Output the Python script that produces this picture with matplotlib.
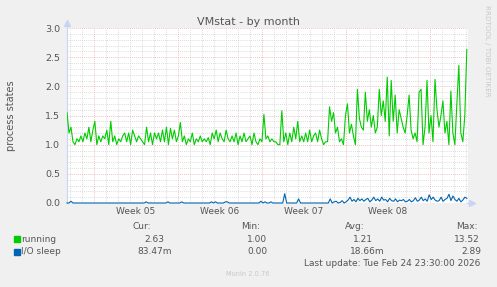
import numpy as np
import matplotlib
matplotlib.use("Agg")
import matplotlib.pyplot as plt
from matplotlib.patches import Rectangle

# ---------------- data ----------------
title = "VMstat - by month"
ylabel = "process states"
week_labels = ["Week 05", "Week 06", "Week 07", "Week 08"]
span_days = 33.42          # time span shown (days)
week_start = 2.25          # first Monday boundary (days from left edge)

running = [
    1.55, 1.2, 1.3, 1.05, 1.0, 1.1, 1.05, 1.15, 1.05, 1.2, 1.1, 1.3, 1.05, 1.25, 1.4, 1.0, 1.15,
    1.05, 1.15, 1.1, 1.25, 1.0, 1.4, 1.05, 1.15, 1.0, 1.1, 1.05, 1.15, 1.2, 1.05, 1.2, 1.0, 1.25,
    1.15, 1.05, 1.15, 1.1, 1.05, 1.0, 1.3, 1.05, 1.2, 1.0, 1.2, 1.1, 1.2, 1.05, 1.25, 1.05, 1.3,
    1.0, 1.28, 1.1, 1.25, 1.05, 1.15, 1.38, 1.05, 1.15, 1.0, 1.1, 1.05, 1.2, 1.0, 1.1, 1.05,
    1.15, 1.05, 1.1, 1.05, 1.12, 1.0, 1.2, 1.1, 1.25, 1.05, 1.2, 1.1, 1.05, 1.25, 1.1, 1.05, 1.15,
    1.05, 1.2, 1.0, 1.15, 1.05, 1.2, 1.05, 1.1, 1.15, 1.0, 1.2, 1.05, 1.0, 1.1, 1.05, 1.52, 1.1,
    1.15, 1.05, 1.1, 1.05, 1.05, 1.0, 1.0, 1.58, 1.05, 1.2, 1.0, 1.2, 1.05, 1.3, 1.1, 1.4, 1.05,
    1.15, 1.05, 1.2, 1.05, 1.25, 1.05, 1.15, 1.2, 1.05, 1.25, 1.1, 1.0, 1.05, 1.05, 1.65, 1.4,
    1.55, 1.2, 1.3, 1.05, 1.1, 1.0, 1.5, 1.7, 1.2, 1.35, 1.15, 1.0, 1.95, 1.45, 1.3, 1.25, 1.9,
    1.4, 1.6, 1.3, 1.5, 1.2, 1.3, 1.95, 1.5, 1.75, 1.4, 2.16, 1.15, 2.1, 1.4, 1.85, 1.2, 1.6,
    1.45, 1.3, 1.2, 1.5, 1.85, 1.25, 1.1, 1.2, 1.05, 1.9, 1.95, 1.0, 1.3, 2.1, 1.2, 1.5, 1.05,
    2.12, 1.6, 1.3, 1.5, 1.75, 1.2, 1.4, 1.0, 1.92, 1.2, 1.0, 1.7, 2.36, 1.2, 1.05, 1.5, 2.63,
]

io_sleep = [
    0, 0, 0.03, 0, 0, 0, 0, 0, 0, 0, 0, 0, 0, 0, 0, 0, 0,
    0, 0, 0, 0, 0, 0, 0, 0, 0, 0, 0, 0, 0, 0, 0, 0, 0,
    0, 0, 0, 0, 0, 0, 0.02, 0, 0, 0, 0, 0, 0, 0, 0, 0, 0,
    0.02, 0, 0, 0, 0, 0, 0, 0.02, 0, 0, 0, 0, 0, 0, 0, 0,
    0, 0, 0, 0, 0, 0, 0.02, 0, 0.02, 0, 0, 0, 0, 0.02, 0.02, 0, 0,
    0, 0, 0, 0, 0, 0, 0, 0, 0, 0, 0, 0, 0, 0, 0.03, 0, 0.02,
    0, 0, 0.02, 0, 0, 0, 0, 0, 0, 0.16, 0, 0, 0, 0, 0, 0, 0.07,
    0, 0, 0, 0, 0, 0, 0, 0, 0, 0, 0, 0, 0, 0, 0, 0.07, 0,
    0.02, 0.03, 0, 0.01, 0.04, 0, 0.02, 0.05, 0.1, 0.03, 0.06, 0.02, 0.08, 0.04, 0.07, 0.03, 0.06,
    0.08, 0.02, 0.05, 0.1, 0.04, 0.07, 0.03, 0.1, 0.05, 0.06, 0.02, 0.08, 0.04, 0.03, 0.07, 0.02, 0.05,
    0.04, 0.06, 0.02, 0.03, 0.06, 0.02, 0.04, 0.09, 0.03, 0.05, 0.1, 0.04, 0.07, 0.03, 0.14, 0.06, 0.1,
    0.05, 0.03, 0.04, 0.1, 0.03, 0.06, 0.08, 0.15, 0.04, 0.12, 0.06, 0.03, 0.08, 0.02, 0.05, 0.1, 0.08,
]

legend_names = ["running", "I/O sleep"]
legend_colors = ["#00CC00", "#0066B3"]
cur_vals = ["2.63", "83.47m"]
min_vals = ["1.00", "0.00"]
avg_vals = ["1.21", "18.66m"]
max_vals = ["13.52", "2.89"]
last_update = "Last update: Tue Feb 24 23:30:00 2026"
footer = "Munin 2.0.76"
side_text = "RRDTOOL / TOBI OETIKER"

# ---------------- figure ----------------
W, H = 497, 287
plt.rcParams['font.family'] = ['DejaVu Sans']
fig = plt.figure(figsize=(W / 100, H / 100), dpi=100, facecolor="#F0F0F0")

def fx(x):
    return x / W

def fy(y):
    return 1 - y / H

L, R, T, B = 67, 468, 28, 203
ax = fig.add_axes([fx(L), fy(B), (R - L) / W, (B - T) / H])
ax.set_facecolor("white")
ax.set_xlim(0, span_days)
ax.set_ylim(0, 3.0)
for s in ax.spines.values():
    s.set_visible(False)

minor_col = "#CFCFCF"
major_col = "#F0A8A8"
dash = (0, (1, 1.5))
# horizontal grid
for i in range(1, 31):
    v = i / 10
    if i % 5 == 0:
        continue
    ax.axhline(v, color=minor_col, lw=0.6, ls=dash, zorder=1)
for v in np.arange(0.5, 3.01, 0.5):
    ax.axhline(v, color=major_col, lw=0.6, ls=dash, zorder=1.5)
# vertical grid
d = week_start - 2
while d < span_days:
    if abs((d - week_start) % 7) > 1e-6:
        ax.axvline(d, color=minor_col, lw=0.6, ls=dash, zorder=1)
    d += 1
weeks = np.arange(week_start, span_days, 7)
for w in weeks:
    ax.axvline(w, color=major_col, lw=0.6, ls=dash, zorder=1.5)

# data
t_run = np.linspace(0, span_days - 0.1, len(running))
t_io = np.linspace(0, span_days - 0.1, len(io_sleep))
ax.plot(t_run, running, color=legend_colors[0], lw=0.8, zorder=3)
ax.plot(t_io, io_sleep, color=legend_colors[1], lw=0.8, zorder=4, clip_on=False)

# axes lines with arrows
axis_col = "#C8D4F4"
ax.plot([0, 0], [0, 3.06], color=axis_col, lw=0.8, clip_on=False, zorder=2)
ax.plot([0], [3.08], marker="^", ms=4, color=axis_col, clip_on=False, zorder=2)
ax.plot([span_days - 0.1, span_days + 0.2], [0, 0], color=axis_col, lw=0.8, clip_on=False, zorder=2)
ax.plot([span_days + 0.3], [0], marker=">", ms=4, color=axis_col, clip_on=False, zorder=2)

# ticks
ax.set_yticks(np.arange(0, 3.01, 0.5))
ax.set_yticklabels([f"{v:.1f}" for v in np.arange(0, 3.01, 0.5)])
ax.set_xticks(weeks[:len(week_labels)] + 3.5)
ax.set_xticklabels(week_labels)
ax.tick_params(axis="y", length=0, pad=5, labelsize=6.8, labelcolor="#555555")
ax.tick_params(axis="x", length=0, pad=3, labelsize=6.5, labelcolor="#555555")

# title and labels
fig.text(0.5, fy(22), title, ha="center", va="center", fontsize=8, color="#555555")
fig.text(fx(11), fy(115.5), ylabel, ha="center", va="center", rotation=90,
         fontsize=7, color="#555555")
fig.text(fx(487.5), fy(51), side_text, ha="center", va="center", rotation=270,
         fontsize=5.1, color="#C8C8C8")

# legend
tc = "#555555"
fs = 6.5
fig.text(fx(142), fy(226.5), "Cur:", ha="center", va="center", fontsize=fs, color=tc)
fig.text(fx(251), fy(226.5), "Min:", ha="center", va="center", fontsize=fs, color=tc)
fig.text(fx(355), fy(226.5), "Avg:", ha="center", va="center", fontsize=fs, color=tc)
fig.text(fx(467), fy(226.5), "Max:", ha="center", va="center", fontsize=fs, color=tc)
rows_y = [239, 251.5]
cur_x = [154, 155]
min_x = [257.5, 257.5]
avg_x = [362.5, 367]
max_x = [466.5, 471]
for i in range(2):
    y = rows_y[i]
    fig.patches.append(Rectangle((fx(14), fy(y + 3)), 6 / W, 6 / H,
                                 transform=fig.transFigure, color=legend_colors[i]))
    fig.text(fx(21), fy(y), legend_names[i], ha="left", va="center", fontsize=fs, color=tc)
    fig.text(fx(cur_x[i]), fy(y), cur_vals[i], ha="center", va="center", fontsize=fs, color=tc)
    fig.text(fx(min_x[i]), fy(y), min_vals[i], ha="center", va="center", fontsize=fs, color=tc)
    fig.text(fx(avg_x[i]), fy(y), avg_vals[i], ha="center", va="center", fontsize=fs, color=tc)
    fig.text(fx(max_x[i]), fy(y), max_vals[i], ha="center", va="center", fontsize=fs, color=tc)

fig.text(fx(392.5), fy(263.5), last_update, ha="center", va="center", fontsize=fs, color=tc)
fig.text(fx(248), fy(274), footer, ha="center", va="center", fontsize=4.8, color="#C8C8C8")

fig.savefig("out.png", dpi=100, facecolor=fig.get_facecolor())
